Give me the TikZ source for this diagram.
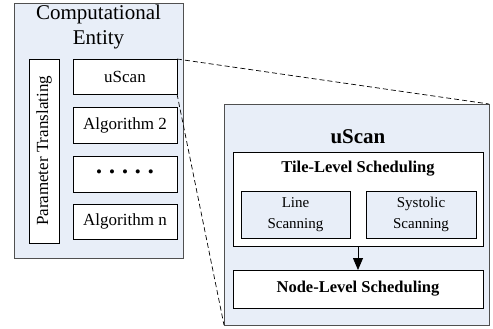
\documentclass[tikz,border=0pt]{standalone}
\usepackage{fontspec}
\setmainfont{Liberation Serif}
\usetikzlibrary{arrows.meta}
\definecolor{panelfill}{RGB}{232,238,248}
\definecolor{panelline}{RGB}{80,80,80}
\tikzset{
  x=1pt, y=1pt,
  panel/.style={draw=panelline, fill=panelfill, line width=0.9pt, inner sep=0pt, outer sep=0pt, anchor=north west},
  whitebox/.style={draw=black, fill=white, line width=0.8pt, inner sep=0pt, outer sep=0pt, anchor=north west},
  bluebox/.style={draw=black, fill=panelfill, line width=0.8pt, inner sep=0pt, outer sep=0pt, anchor=north west, align=center, font=\fontsize{15}{21}\selectfont},
  lbl/.style={font=\fontsize{17}{19}\selectfont},
  boldlbl/.style={font=\fontsize{16.5}{19}\selectfont\bfseries},
  zoomline/.style={dashed, dash pattern=on 5pt off 3pt, line width=0.7pt},
}
\begin{document}
\begin{tikzpicture}
\useasboundingbox (0,0) rectangle (493,-329);

% left panel: computational entity
\node[panel, minimum width=169pt, minimum height=255pt] (ce) at (14,-3) {};
\node[align=center, font=\fontsize{21}{25}\selectfont] (cetitle) at (98.5,-27) {Computational\\Entity};
\node[whitebox, rotate=90, anchor=center, minimum width=184pt, minimum height=30pt, lbl] (pt) at (44,-151) {Parameter Translating};
\node[whitebox, minimum width=104pt, minimum height=35pt, lbl] (us) at (73,-59) {uScan};
\node[whitebox, minimum width=104pt, minimum height=36pt, lbl] (a2) at (73,-107) {Algorithm 2};
\node[whitebox, minimum width=104pt, minimum height=36pt, lbl] (dots) at (73,-156) {\textbullet\hspace{7pt}\textbullet\hspace{7pt}\textbullet\hspace{7pt}\textbullet\hspace{7pt}\textbullet};
\node[whitebox, minimum width=104pt, minimum height=35pt, lbl] (an) at (73,-204) {Algorithm n};

% right panel: uScan detail
\node[panel, minimum width=265pt, minimum height=221pt] (rb) at (224,-104) {};
\node[font=\fontsize{21}{25}\selectfont\bfseries] (rbtitle) at (358,-137) {uScan};
\node[whitebox, minimum width=250pt, minimum height=94pt] (tile) at (233,-152) {};
\node[boldlbl] (tiletitle) at (358,-169) {Tile-Level Scheduling};
\node[bluebox, minimum width=109pt, minimum height=47pt] (line) at (241,-191) {Line\\Scanning};
\node[bluebox, minimum width=110pt, minimum height=47pt] (sys) at (366,-191) {Systolic\\Scanning};
\node[whitebox, minimum width=250pt, minimum height=38pt, boldlbl] (nodelvl) at (233,-270) {Node-Level Scheduling};

\draw[line width=0.8pt, -{Triangle[length=12pt,width=10pt]}] (tile.south) -- (nodelvl.north);

% zoom-out guide lines
\draw[zoomline] (us.north east) -- (rb.north east);
\draw[zoomline] (us.south east) -- (rb.south west);
\end{tikzpicture}
\end{document}
